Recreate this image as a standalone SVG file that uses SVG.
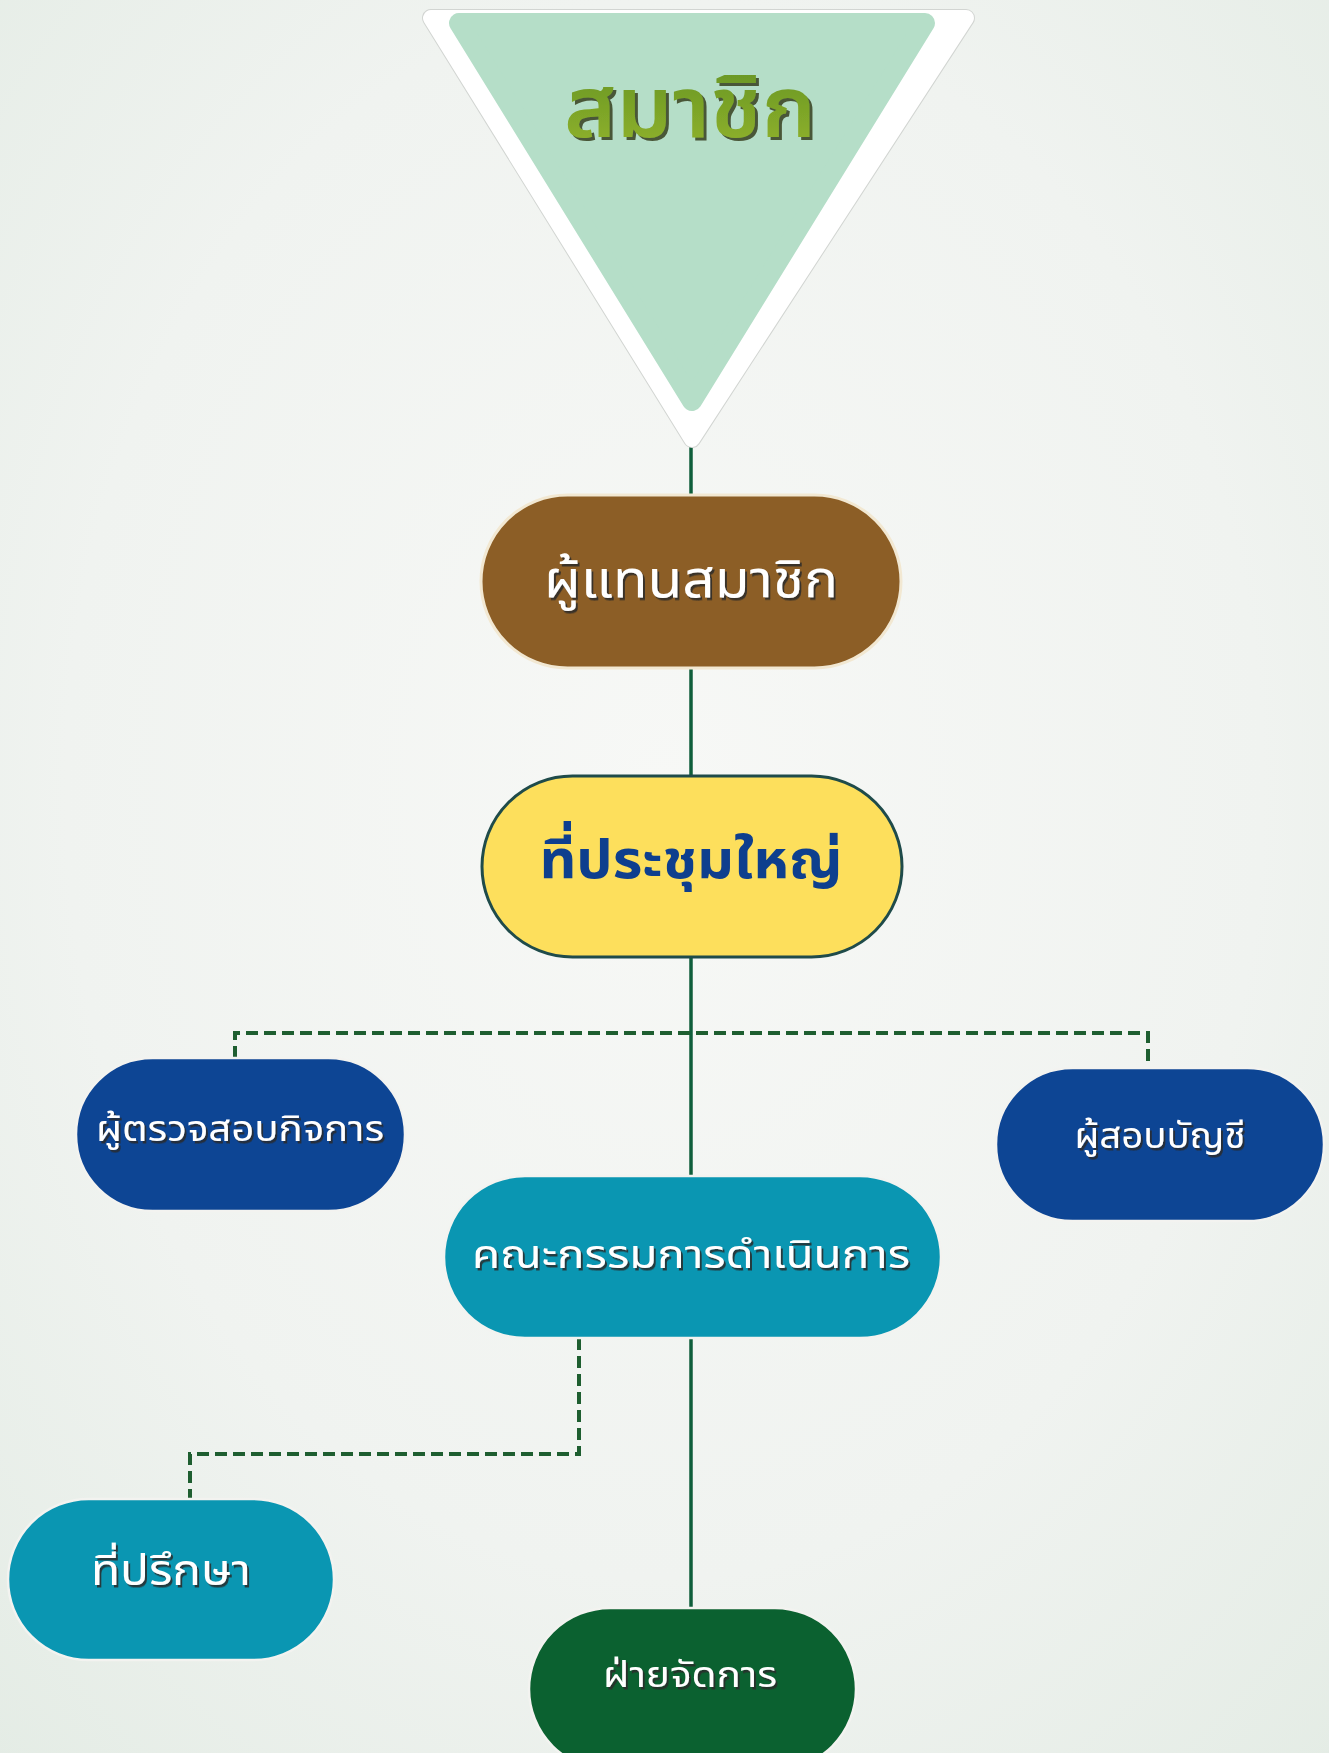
<svg xmlns="http://www.w3.org/2000/svg" width="1329" height="1753" viewBox="0 0 1329 1753">
<defs>
<radialGradient id="bg" cx="50%" cy="45%" r="75%">
<stop offset="0" stop-color="#F7F8F6"/>
<stop offset="0.6" stop-color="#F0F3F0"/>
<stop offset="1" stop-color="#E4ECE5"/>
</radialGradient>
<linearGradient id="tg" x1="0" y1="0" x2="0" y2="1">
<stop offset="0" stop-color="#5E8F22"/>
<stop offset="1" stop-color="#9DBB2E"/>
</linearGradient>
<filter id="sh" x="-10%" y="-20%" width="120%" height="140%">
<feDropShadow dx="2" dy="2.5" stdDeviation="0.6" flood-color="#2a2a2a" flood-opacity="0.85"/>
</filter>
<filter id="sh2" x="-10%" y="-20%" width="120%" height="140%">
<feDropShadow dx="3" dy="3" stdDeviation="0.5" flood-color="#3d4a2a" flood-opacity="0.9"/>
</filter>
</defs>
<style>
.lbl{font-family:"Noto Sans Thai","Noto Sans","Liberation Sans",sans-serif;fill:#ffffff;text-anchor:middle;dominant-baseline:central;filter:url(#sh)}
.pill{stroke:#F3F3F0;stroke-width:2.5}
.solid{stroke:#0F5E3B;stroke-width:3.5;fill:none}
.dash{stroke:#1E5E30;stroke-width:4;fill:none;stroke-dasharray:12 6}
</style>
<rect width="1329" height="1753" fill="url(#bg)"/>

<g id="connectors">
<line class="solid" x1="691" y1="440" x2="691" y2="1610"/>
<polyline class="dash" points="235,1058 235,1033 1148,1033 1148,1068"/>
<polyline class="dash" points="579,1338 579,1454 190,1454 190,1500"/>
</g>

<g id="node-members">
<polygon points="431,18 966,18 692,439" fill="#ffffff" stroke="#D2D5D2" stroke-width="18" stroke-linejoin="round"/>
<polygon points="431,18 966,18 692,439" fill="#ffffff" stroke="#ffffff" stroke-width="16" stroke-linejoin="round"/>
<polygon points="459,23 925,23 692,401" fill="#B5DEC8" stroke="#B5DEC8" stroke-width="20" stroke-linejoin="round"/>
<text x="690" y="111" font-family="'Noto Sans Thai','Noto Sans','Liberation Sans',sans-serif" font-size="86" font-weight="600" fill="url(#tg)" text-anchor="middle" dominant-baseline="central" filter="url(#sh2)" textLength="252" lengthAdjust="spacingAndGlyphs">สมาชิก</text>
</g>

<g id="node-delegates">
<rect x="481" y="495" width="420" height="173" rx="86.5" fill="#8C5E26" stroke="#F2E8D2" stroke-width="3"/>
<text class="lbl" x="691" y="581" font-size="52" textLength="294" lengthAdjust="spacingAndGlyphs">ผู้แทนสมาชิก</text>
</g>

<g id="node-assembly">
<rect x="482" y="776" width="420" height="181" rx="90.5" fill="#FDDF5C" stroke="#1F4B4A" stroke-width="3"/>
<text x="691" y="861" font-family="'Noto Sans Thai','Noto Sans','Liberation Sans',sans-serif" font-size="54" font-weight="700" fill="#0E3F8E" text-anchor="middle" dominant-baseline="central" textLength="303" lengthAdjust="spacingAndGlyphs">ที่ประชุมใหญ่</text>
</g>

<g id="node-inspector">
<rect class="pill" x="76" y="1058" width="329" height="153" rx="76.5" fill="#0D4594"/>
<text class="lbl" x="240" y="1130" font-size="36" textLength="288" lengthAdjust="spacingAndGlyphs">ผู้ตรวจสอบกิจการ</text>
</g>

<g id="node-auditor">
<rect class="pill" x="996" y="1068" width="328" height="153" rx="76.5" fill="#0D4594"/>
<text class="lbl" x="1160" y="1137" font-size="36" textLength="171" lengthAdjust="spacingAndGlyphs">ผู้สอบบัญชี</text>
</g>

<g id="node-board">
<rect class="pill" x="444" y="1176" width="497" height="162" rx="81" fill="#0A96B2"/>
<text class="lbl" x="691" y="1256" font-size="40" textLength="438" lengthAdjust="spacingAndGlyphs">คณะกรรมการดำเนินการ</text>
</g>

<g id="node-advisor">
<rect class="pill" x="8" y="1499" width="326" height="161" rx="80.5" fill="#0A96B2"/>
<text class="lbl" x="171" y="1572" font-size="42" textLength="160" lengthAdjust="spacingAndGlyphs">ที่ปรึกษา</text>
</g>

<g id="node-management">
<rect class="pill" x="529" y="1608" width="327" height="162" rx="81" fill="#0B6130"/>
<text class="lbl" x="690" y="1676" font-size="36" textLength="174" lengthAdjust="spacingAndGlyphs">ฝ่ายจัดการ</text>
</g>
</svg>
